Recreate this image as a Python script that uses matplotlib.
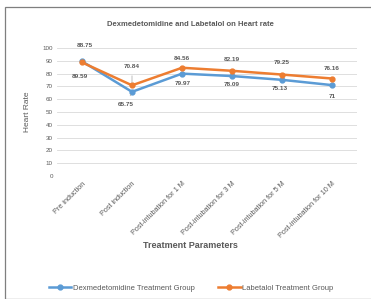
import matplotlib.pyplot as plt
from matplotlib.patches import Rectangle

categories = ["Pre induction", "Post induction", "Post-intubation for 1 M",
              "Post-intubation for 3 M", "Post-intubation for 5 M",
              "Post-intubation for 10 M"]
dex_values = [89.59, 65.75, 79.97, 78.09, 75.13, 71]
lab_values = [88.75, 70.84, 84.56, 82.19, 79.25, 76.16]
dex_labels = ["89.59", "65.75", "79.97", "78.09", "75.13", "71"]
lab_labels = ["88.75", "70.84", "84.56", "82.19", "79.25", "76.16"]

BLUE = "#5B9BD5"
ORANGE = "#ED7D31"
TXT = "#595959"

plt.rcParams["font.family"] = ["Liberation Sans", "DejaVu Sans"]

fig = plt.figure(figsize=(3.71, 2.99), dpi=100)
fig.patches.append(Rectangle((5 / 371, 0), 1.0, 1 - 7 / 299, transform=fig.transFigure,
                             fill=False, edgecolor="#7f7f7f", linewidth=0.9))

ax = fig.add_axes([57 / 371, 1 - 176 / 299, 300 / 371, 128 / 299])
x = list(range(len(categories)))
ax.plot(x, dex_values, color=BLUE, linewidth=1.8, marker="o", markersize=3.5,
        label="Dexmedetomidine Treatment Group", zorder=3)
ax.plot(x, lab_values, color=ORANGE, linewidth=1.8, marker="o", markersize=3.5,
        label="Labetalol Treatment Group", zorder=3)

ax.set_xlim(-0.5, len(categories) - 0.5)
ax.set_ylim(0, 100)
ax.set_yticks(range(0, 101, 10))
ax.grid(axis="y", color="#d9d9d9", linewidth=0.6)
ax.set_axisbelow(True)
for s in ax.spines.values():
    s.set_visible(False)
ax.tick_params(length=0, labelsize=4.5, colors=TXT, pad=3)
ax.set_xticks(x)
ax.set_xticklabels(categories, rotation=45, ha="right", rotation_mode="anchor", fontsize=5.2)

dex_off = [(-2, -15), (-6, -13), (1, -10), (0, -8), (-2, -9), (0, -11)]
lab_off = [(3, 17), (0, 19), (0, 9), (0, 11), (0, 12), (0, 10)]
for i in x:
    lead = dict(arrowstyle="-", color="#a6a6a6", lw=0.5, shrinkA=3, shrinkB=2) if i == 1 else None
    ax.annotate(dex_labels[i], (i, dex_values[i]), xytext=dex_off[i],
                textcoords="offset pixels", ha="center", va="center",
                fontsize=4.6, color=TXT, fontweight="bold", arrowprops=lead)
    ax.annotate(lab_labels[i], (i, lab_values[i]), xytext=lab_off[i],
                textcoords="offset pixels", ha="center", va="center",
                fontsize=4.6, color=TXT, fontweight="bold", arrowprops=lead)

ax.set_ylabel("Heart Rate", fontsize=6, color=TXT, labelpad=8)
fig.text(190 / 371, 1 - 245 / 299, "Treatment Parameters", ha="center", va="center",
         fontsize=6.5, fontweight="bold", color=TXT)
fig.text(190 / 371, 1 - 25 / 299, "Dexmedetomidine and Labetalol on Heart rate",
         ha="center", va="center", fontsize=5.5, fontweight="bold", color=TXT)

fig.legend(loc="center", bbox_to_anchor=(191 / 371, 1 - 288 / 299), ncol=2, frameon=False,
           fontsize=5.5, handlelength=3, columnspacing=3, handletextpad=0.2,
           labelcolor=TXT)

fig.savefig("out.png", dpi=100)
